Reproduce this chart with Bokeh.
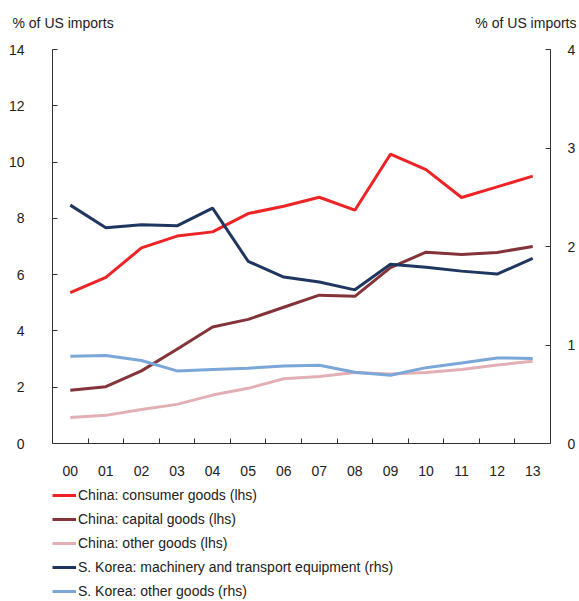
from bokeh.plotting import figure
from bokeh.layouts import column
from bokeh.models import (Range1d, LinearAxis, FixedTicker, Legend, LegendItem)
from bokeh.core.properties import value
from bokeh.embed import file_html
from bokeh.resources import INLINE

years = ["00", "01", "02", "03", "04", "05", "06", "07", "08", "09", "10", "11", "12", "13"]
china_consumer = [5.36, 5.90, 6.95, 7.37, 7.52, 8.17, 8.43, 8.75, 8.29, 10.28, 9.73, 8.74, 9.12, 9.50]
china_capital = [1.89, 2.02, 2.58, 3.35, 4.14, 4.41, 4.84, 5.27, 5.23, 6.25, 6.80, 6.72, 6.79, 7.00]
china_other = [0.92, 1.00, 1.21, 1.39, 1.72, 1.96, 2.30, 2.38, 2.52, 2.47, 2.52, 2.63, 2.79, 2.92]
korea_machinery = [2.42, 2.19, 2.22, 2.21, 2.39, 1.85, 1.69, 1.64, 1.56, 1.82, 1.79, 1.75, 1.72, 1.88]
korea_other = [0.886, 0.893, 0.843, 0.737, 0.751, 0.765, 0.788, 0.795, 0.724, 0.693, 0.770, 0.818, 0.869, 0.863]
lhs_ticks = [0, 2, 4, 6, 8, 10, 12, 14]
rhs_ticks = [0, 1, 2, 3, 4]
unit_label = "% of US imports"
series_labels = ["China: consumer goods (lhs)", "China: capital goods (lhs)",
                 "China: other goods (lhs)",
                 "S. Korea: machinery and transport equipment (rhs)",
                 "S. Korea: other goods (rhs)"]
series_values = [china_consumer, china_capital, china_other, korea_machinery, korea_other]
colors = ["#EE2326", "#843439", "#E2B0B4", "#1F3760", "#7AA7D8"]

FONT = "Liberation Sans"
TXT = "#222222"
W = 578
H_HEAD, H_MAIN, H_LEG = 40, 443, 117


def bare(fig):
    fig.outline_line_color = None
    fig.xgrid.visible = False
    fig.ygrid.visible = False
    fig.background_fill_color = "white"
    fig.border_fill_color = "white"
    fig.min_border_left = fig.min_border_right = fig.min_border_top = fig.min_border_bottom = 0
    fig.frame_align = False


# ---------- header with the two unit labels ----------
head = figure(width=W, height=H_HEAD, output_backend="svg", toolbar_location=None,
              x_range=Range1d(0, W), y_range=Range1d(0, H_HEAD),
              x_axis_location=None, y_axis_location=None)
bare(head)
head.text(x=[12], y=[18], text=[unit_label], text_font=value(FONT), text_font_size="14px",
          text_color=TXT, text_align="left", text_baseline="middle")
head.text(x=[W - 2], y=[18], text=[unit_label], text_font=value(FONT), text_font_size="14px",
          text_color=TXT, text_align="right", text_baseline="middle")

# ---------- main chart ----------
x = list(range(len(years)))

p = figure(width=W, height=H_MAIN, output_backend="svg", toolbar_location=None,
           x_range=Range1d(-0.5, len(years) - 0.5), y_range=Range1d(0, 14),
           x_axis_location=None, y_axis_location=None)
p.extra_y_ranges = {"rhs": Range1d(0, 4)}
bare(p)
p.min_border_left = 52
p.min_border_right = 27
p.min_border_top = 9
p.min_border_bottom = 40

xa = LinearAxis(ticker=FixedTicker(ticks=x, minor_ticks=[i + 0.5 for i in x[:-1]]))
xa.major_label_overrides = {i: y for i, y in enumerate(years)}
xa.major_tick_in = 0
xa.major_tick_out = 0
xa.minor_tick_in = 5
xa.minor_tick_out = 0
xa.minor_tick_line_color = "#333333"
xa.major_label_standoff = 22
xa.axis_line_color = "#333333"
xa.major_label_text_font = FONT
xa.major_label_text_font_size = "14px"
xa.major_label_text_color = TXT
p.add_layout(xa, "below")

la = LinearAxis(ticker=FixedTicker(ticks=lhs_ticks))
la.major_tick_in = 5
la.major_tick_out = 0
la.minor_tick_in = 0
la.minor_tick_out = 0
la.major_label_standoff = 28
la.axis_line_color = "#333333"
la.major_tick_line_color = "#333333"
la.major_label_text_font = FONT
la.major_label_text_font_size = "14px"
la.major_label_text_color = TXT
p.add_layout(la, "left")

ra = LinearAxis(y_range_name="rhs", ticker=FixedTicker(ticks=rhs_ticks))
ra.major_tick_in = 5
ra.major_tick_out = 0
ra.minor_tick_in = 0
ra.minor_tick_out = 0
ra.major_label_standoff = 17
ra.axis_line_color = "#333333"
ra.major_tick_line_color = "#333333"
ra.major_label_text_font = FONT
ra.major_label_text_font_size = "14px"
ra.major_label_text_color = TXT
p.add_layout(ra, "right")

lw = 3
p.line(x, china_consumer, line_color=colors[0], line_width=lw)
p.line(x, china_capital, line_color=colors[1], line_width=lw)
p.line(x, china_other, line_color=colors[2], line_width=lw)
p.line(x, korea_machinery, line_color=colors[3], line_width=lw, y_range_name="rhs")
p.line(x, korea_other, line_color=colors[4], line_width=lw, y_range_name="rhs")

# ---------- legend strip ----------
leg = figure(width=W, height=H_LEG, output_backend="svg", toolbar_location=None,
             x_range=Range1d(-0.5, len(years) - 0.5), y_range=Range1d(100, 101),
             x_axis_location=None, y_axis_location=None)
bare(leg)
items = []
for lab, col, vals in zip(series_labels, colors, series_values):
    # legend proxy: a single-point line (draws nothing in the strip)
    r = leg.line(x[:1], vals[:1], line_color=col, line_width=lw)
    items.append(LegendItem(label=lab, renderers=[r]))
legend = Legend(items=items, location=(52, 1), orientation="vertical")
legend.glyph_width = 24
legend.glyph_height = 16
legend.label_height = 16
legend.label_standoff = 2
legend.spacing = 8
legend.padding = 0
legend.margin = 0
legend.border_line_color = None
legend.background_fill_alpha = 0
legend.label_text_font = FONT
legend.label_text_font_size = "14px"
legend.label_text_color = TXT
leg.add_layout(legend)

layout = column(head, p, leg, spacing=0)
open("out.html", "w").write(file_html(layout, INLINE))
